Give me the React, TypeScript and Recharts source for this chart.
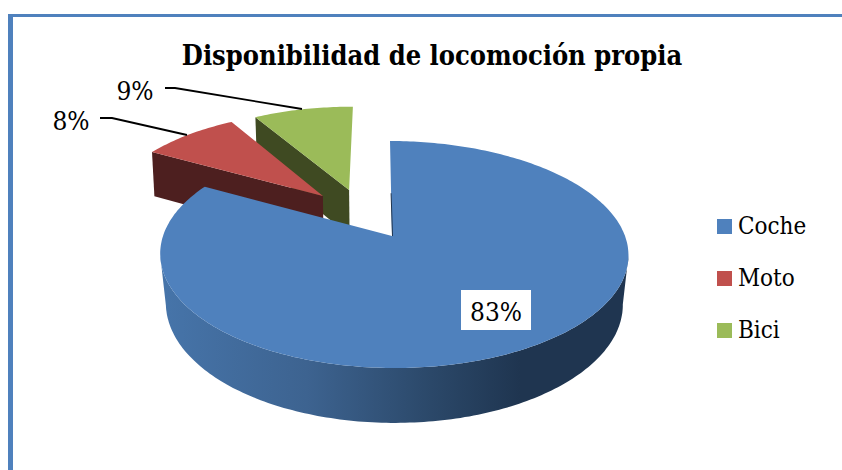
import { PieChart, Pie, Legend } from 'recharts';

const categories = ['Bici', 'Moto', 'Coche'];
const values = [8.6, 8.4, 83];
const colors = ['#9bbb59', '#c0504d', '#4f81bd'];
const sideColors = ['#3f4a22', '#4d1f1f', '#1f3550'];
const legendOrder = ['Coche', 'Moto', 'Bici'];

const data = categories.map((name, i) => ({ name, value: values[i], fill: colors[i] }));

const SERIF = '"DejaVu Serif Condensed", "Liberation Serif", serif';
const RAD = Math.PI / 180;

// how far each exploded wedge sits from the centre, in pie radii
const explode: Record<string, [number, number]> = {
  Bici: [-0.195, 0.447],
  Moto: [-0.315, 0.385],
  Coche: [0, 0],
};

// label box and leader line for each wedge
const labelSpots: Record<string, { x: number; y: number; line?: string }> = {
  Bici: { x: 135, y: 90, line: '165,88 175,88 302,109' },
  Moto: { x: 71, y: 120, line: '100,118 112,118 187,135' },
  Coche: { x: 496, y: 311 },
};

// perspective of the tilted disc
function project(u: number, v: number, cx: number, cy: number, r: number) {
  const w = 1 + 0.163 * v;
  const y = (cy - 72 * v) / w;
  const x = cx + (r * u) / w + 0.021 * (y - cy) + 2 * u * u;
  return { x, y };
}

// same point on the underside of the disc
function lower(p: { x: number; y: number }, k = 0.976) {
  return { x: 394 + (p.x - 394) * k, y: p.y + 44 + 0.05 * (p.y - 150) };
}

const toPath = (pts: { x: number; y: number }[]) =>
  'M' + pts.map((p) => `${p.x.toFixed(1)},${p.y.toFixed(1)}`).join('L') + 'Z';

function Wedge3D(props: any) {
  const { cx, cy, outerRadius, startAngle, endAngle, fill, name, index } = props;
  const [ou, ov] = explode[name];
  const at = (a: number) => project(ou + Math.cos(a * RAD), ov + Math.sin(a * RAD), cx, cy, outerRadius);
  const apex = project(ou, ov, cx, cy, outerRadius);

  const lo = Math.min(startAngle, endAngle);
  const hi = Math.max(startAngle, endAngle);
  const arc: { x: number; y: number }[] = [];
  for (let a = lo; a < hi; a += 1) arc.push(at(a));
  arc.push(at(hi));

  const top = toPath([apex, ...arc]);

  if (name === 'Coche') {
    // only the front of the rim shows, from one widest point of the disc to the other
    const front = arc.filter((_, i) => Math.sin((lo + i) * RAD) < -0.16);
    const rim = toPath([...front, ...front.map((p) => lower(p)).reverse()]);
    const edge = at(hi);
    return (
      <g>
        <defs>
          <linearGradient id="cocheSide" gradientUnits="userSpaceOnUse" x1={165} y1={0} x2={520} y2={0}>
            <stop offset="0" stopColor="#4674a9" />
            <stop offset="0.4" stopColor="#3d6390" />
            <stop offset="0.75" stopColor="#2b4869" />
            <stop offset="1" stopColor={sideColors[index]} />
          </linearGradient>
        </defs>
        <path d={rim} fill="url(#cocheSide)" />
        <path d={top} fill={fill} />
        <line
          x1={apex.x + (edge.x - apex.x) * 0.45}
          y1={apex.y + (edge.y - apex.y) * 0.45}
          x2={apex.x + 0.5}
          y2={apex.y}
          stroke="#1f3550"
          strokeWidth={1}
        />
      </g>
    );
  }

  const corner = at(hi);
  const cut = toPath([corner, apex, lower(apex, 0.99), lower(corner, 0.99)]);
  return (
    <g>
      <path d={cut} fill={sideColors[index]} />
      <path d={top} fill={fill} />
    </g>
  );
}

function PctLabel(props: any) {
  const { name, value } = props;
  const spot = labelSpots[name];
  return (
    <g>
      {spot.line ? <polyline points={spot.line} fill="none" stroke="#000" strokeWidth={1.8} /> : null}
      {name === 'Coche' ? <rect x={461} y={290} width={70} height={40} fill="#fff" /> : null}
      <text x={spot.x} y={spot.y} dy={10} textAnchor="middle" fontFamily={SERIF} fontSize={26} fill="#000">
        {Math.round(value)}%
      </text>
    </g>
  );
}

function LegendBox({ payload }: any) {
  const items = legendOrder.map((n) => (payload || []).find((it: any) => it.value === n)).filter(Boolean);
  return (
    <div>
      {items.map((it: any) => (
        <div key={it.value} style={{ display: 'flex', alignItems: 'center', height: 52 }}>
          <span style={{ width: 15, height: 15, background: it.color, marginRight: 6 }} />
          <span style={{ fontFamily: SERIF, fontSize: 24, color: '#000' }}>{it.value}</span>
        </div>
      ))}
    </div>
  );
}

export default function App() {
  return (
    <div style={{ position: 'absolute', left: 0, top: 0, width: 842, height: 470, background: '#fff', overflow: 'hidden' }}>
      <div
        style={{
          position: 'absolute',
          left: 8,
          top: 14,
          width: 840,
          height: 470,
          borderLeft: '5px solid #4f81bd',
          borderTop: '3px solid #4f81bd',
          boxSizing: 'border-box',
        }}
      />
      <PieChart
        width={842}
        height={470}
        margin={{ top: 0, right: 0, bottom: 0, left: 0 }}
        style={{ position: 'absolute', left: 0, top: 0 }}
      >
        <text x={432} y={65} textAnchor="middle" fontFamily={SERIF} fontWeight="bold" fontSize={27} fill="#000">
          Disponibilidad de locomoción propia
        </text>
        <Pie
          data={data}
          dataKey="value"
          nameKey="name"
          cx={392}
          cy={236}
          outerRadius={231}
          startAngle={90}
          endAngle={450}
          stroke="none"
          shape={Wedge3D}
          label={PctLabel}
          labelLine={false}
          isAnimationActive={false}
        />
        <Legend
          layout="vertical"
          verticalAlign="middle"
          align="right"
          wrapperStyle={{ left: 717, top: 200, width: 120 }}
          content={LegendBox}
        />
      </PieChart>
    </div>
  );
}
